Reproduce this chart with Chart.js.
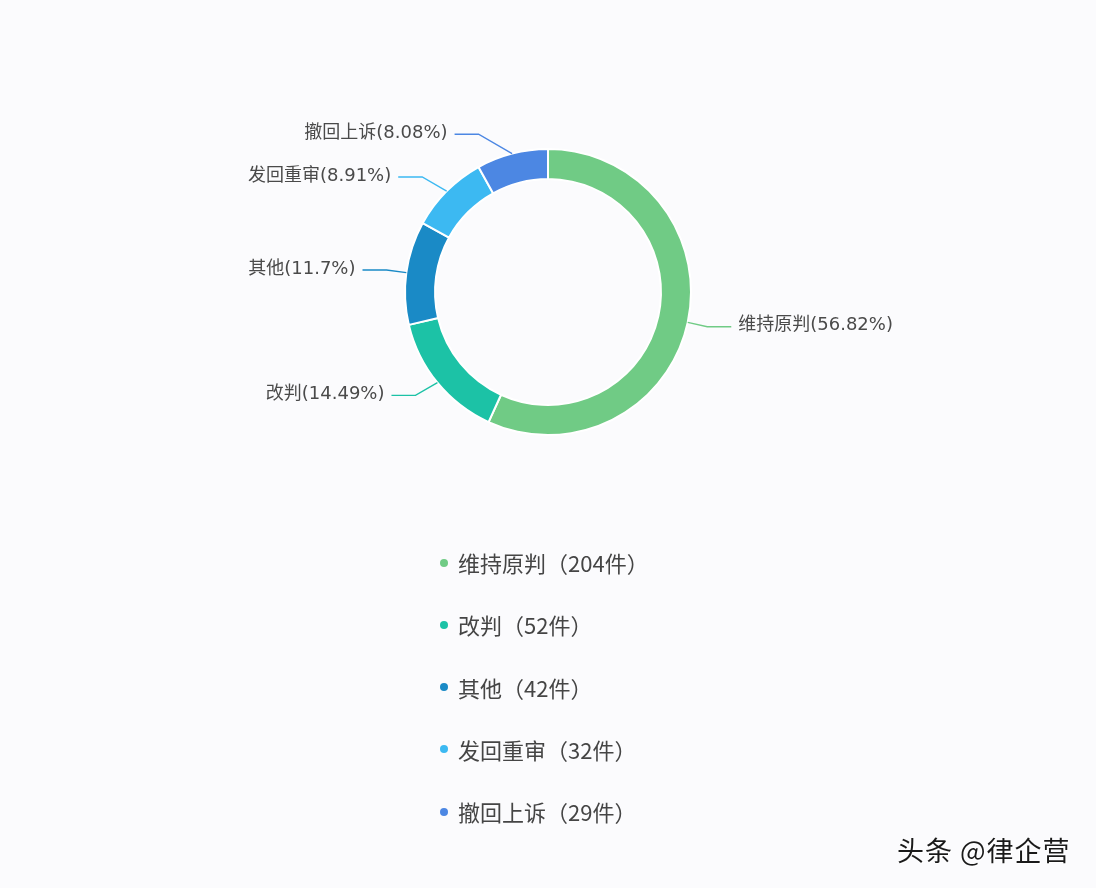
<!DOCTYPE html>
<html>
<head>
<meta charset="utf-8">
<script src="https://cdn.jsdelivr.net/npm/chart.js@4.4.1/dist/chart.umd.min.js"></script>
<style>
  html, body { margin: 0; padding: 0; background: #fbfbfd; }
  #wrap { position: relative; width: 1096px; height: 888px; overflow: hidden; background: #fbfbfd; }
  #c { position: absolute; left: 0; top: 0; }
  #legend { position: absolute; left: 438px; top: 531px; margin: 0; padding: 0; list-style: none;
    font-family: "Noto Sans CJK SC", "Noto Sans", sans-serif; font-size: 22px; color: #454545; }
  #legend li { position: relative; height: 62.25px; line-height: 62.25px; padding-left: 20px; white-space: nowrap; }
  #legend li span.dot { position: absolute; left: 2px; top: 27.5px; width: 8px; height: 8px; border-radius: 50%; }
  #mark { position: absolute; left: 897px; top: 830px; font-family: "Noto Sans CJK SC", sans-serif;
    font-size: 27px; line-height: 40px; color: #1a1a1a; text-shadow: 1px 1px 0 #fff, -1px 0 0 #fff; letter-spacing: 1px; }
</style>
</head>
<body>
<div id="wrap">
  <canvas id="c" width="1096" height="888"></canvas>
  <ul id="legend"></ul>
  <div id="mark">头条 @律企营</div>
</div>
<script>
const categories = ["维持原判", "改判", "其他", "发回重审", "撤回上诉"];
const counts = [204, 52, 42, 32, 29];
const percentLabels = ["56.82%", "14.49%", "11.7%", "8.91%", "8.08%"];
const colors = ["#70cb85", "#1cc2a6", "#1a8ac6", "#3cb9f2", "#4c87e3"];

const outerLabels = {
  id: "outerLabels",
  afterDatasetsDraw(chart) {
    const ctx = chart.ctx;
    const meta = chart.getDatasetMeta(0);
    ctx.save();
    ctx.font = '18px "DejaVu Sans", "Noto Sans CJK SC", sans-serif';
    ctx.textBaseline = "middle";
    meta.data.forEach((arc, i) => {
      const p = arc.getProps(["x", "y", "startAngle", "endAngle", "outerRadius"], true);
      const mid = (p.startAngle + p.endAngle) / 2;
      const dx = Math.cos(mid), dy = Math.sin(mid);
      const p0 = { x: p.x + dx * p.outerRadius, y: p.y + dy * p.outerRadius };
      const R1 = p.outerRadius + 20;
      const p1 = { x: p.x + dx * R1, y: p.y + dy * R1 };
      const side = dx >= 0 ? 1 : -1;
      const minDx = Math.abs(p1.y - p0.y) / Math.tan(Math.PI / 6);
      if (Math.abs(p1.x - p0.x) < minDx) p1.x = p0.x + side * minDx;
      const p2 = { x: p1.x + side * 24, y: p1.y };
      ctx.strokeStyle = colors[i];
      ctx.lineWidth = 1.4;
      ctx.beginPath();
      ctx.moveTo(p0.x, p0.y);
      ctx.lineTo(p1.x, p1.y);
      ctx.lineTo(p2.x, p2.y);
      ctx.stroke();
      ctx.fillStyle = "#4a4a4a";
      ctx.textAlign = side > 0 ? "left" : "right";
      ctx.fillText(categories[i] + "(" + percentLabels[i] + ")", p2.x + side * 7, p2.y - 1);
    });
    ctx.restore();
  }
};

const chart = new Chart(document.getElementById("c"), {
  type: "doughnut",
  data: {
    labels: categories,
    datasets: [{
      data: counts,
      backgroundColor: colors,
      borderColor: "#ffffff",
      borderWidth: 2,
      hoverOffset: 0
    }]
  },
  options: {
    responsive: false,
    animation: false,
    cutout: "79%",
    layout: { padding: { top: 148, bottom: 452, left: 0, right: 0 } },
    plugins: { legend: { display: false }, tooltip: { enabled: false } },
    events: []
  },
  plugins: [outerLabels]
});

const legendEl = document.getElementById("legend");
categories.forEach((name, i) => {
  const li = document.createElement("li");
  const dot = document.createElement("span");
  dot.className = "dot";
  dot.style.background = colors[i];
  li.appendChild(dot);
  li.appendChild(document.createTextNode(name + "（" + counts[i] + "件）"));
  legendEl.appendChild(li);
});
</script>
</body>
</html>
